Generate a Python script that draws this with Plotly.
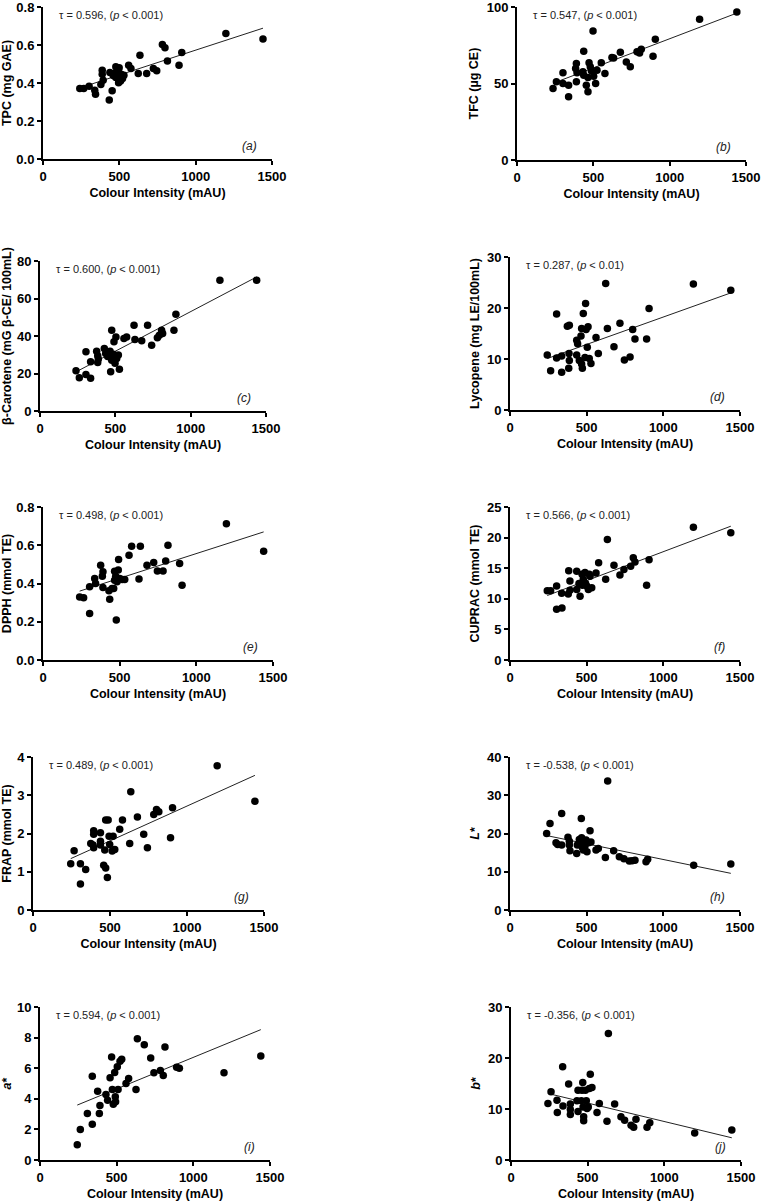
import plotly.graph_objects as go

W, H = 761, 1203
FONT = "Liberation Sans, Arial, sans-serif"

# ---------------- data ----------------
ci_a = [241, 267, 302, 339, 344, 379, 388, 388, 394, 434, 438, 453, 460, 466, 477, 477, 486, 493, 495, 499,
        508, 512, 521, 530, 561, 576, 624, 635, 679, 723, 745, 782, 799, 815, 891, 909, 1198, 1441]
tpc = [0.371, 0.371, 0.383, 0.362, 0.341, 0.392, 0.467, 0.446, 0.415, 0.310, 0.455, 0.359, 0.440, 0.450, 0.485,
       0.429, 0.470, 0.459, 0.401, 0.480, 0.410, 0.446, 0.424, 0.441, 0.494, 0.476, 0.450, 0.546, 0.450, 0.476,
       0.464, 0.602, 0.585, 0.516, 0.494, 0.560, 0.660, 0.632]

ci_b = [236, 258, 301, 301, 338, 338, 384, 389, 389, 393, 432, 437, 437, 454, 465, 465, 472, 480, 487, 498,
        502, 515, 524, 552, 576, 622, 633, 677, 716, 742, 786, 803, 814, 891, 906, 1196, 1440]
tfc = [46.7, 51.1, 57.0, 50.0, 48.9, 41.3, 59.8, 63.0, 51.1, 57.0, 57.6, 71.1, 55.4, 48.9, 44.6, 53.9, 63.5,
       60.9, 58.3, 84.3, 54.8, 50.0, 58.7, 63.5, 56.5, 67.0, 66.7, 70.4, 64.1, 60.9, 70.7, 70.0, 72.4, 67.8,
       78.9, 92.0, 96.7]

ci_c = [239, 261, 305, 305, 336, 336, 376, 383, 387, 383, 427, 436, 449, 465, 469, 476, 476, 487, 491, 498,
        504, 509, 520, 527, 557, 575, 624, 630, 675, 714, 741, 779, 792, 807, 814, 889, 902, 1194, 1438]
bcar = [21.5, 17.7, 31.6, 19.5, 17.4, 26.2, 31.9, 29.4, 27.7, 25.9, 33.3, 30.7, 29.1, 31.9, 20.9, 43.1, 27.1,
        30.3, 36.9, 25.4, 39.5, 28.0, 29.8, 22.2, 38.7, 39.5, 45.7, 38.1, 37.4, 45.7, 35.1, 39.0, 40.4, 43.1,
        41.3, 43.1, 51.6, 69.7, 69.7]

ci_d = [243, 265, 304, 304, 337, 337, 374, 387, 385, 387, 383, 435, 435, 441, 452, 463, 467, 467, 472, 478,
        493, 489, 496, 504, 509, 517, 528, 561, 576, 624, 635, 678, 717, 746, 783, 800, 815, 891, 907, 1196, 1440]
lyc = [10.8, 7.7, 18.8, 10.2, 10.6, 7.4, 16.4, 16.6, 11.1, 9.7, 8.2, 13.7, 10.8, 13.0, 9.7, 14.5, 16.0, 9.0,
       8.2, 18.9, 20.9, 10.3, 15.8, 12.3, 16.3, 10.1, 9.1, 14.2, 11.1, 24.8, 16.0, 12.4, 17.0, 9.8, 10.4, 15.8,
       13.9, 13.9, 19.9, 24.7, 23.5]

ci_e = [239, 265, 304, 304, 337, 343, 376, 387, 391, 391, 430, 435, 450, 461, 467, 467, 474, 478, 483, 491,
        493, 500, 517, 533, 561, 578, 626, 635, 678, 722, 746, 783, 800, 815, 891, 907, 1196, 1439]
dpph = [0.330, 0.325, 0.383, 0.243, 0.426, 0.400, 0.496, 0.438, 0.461, 0.379, 0.362, 0.317, 0.374, 0.374,
        0.417, 0.464, 0.438, 0.209, 0.409, 0.470, 0.525, 0.426, 0.421, 0.421, 0.548, 0.595, 0.423, 0.595,
        0.496, 0.510, 0.466, 0.466, 0.517, 0.600, 0.504, 0.391, 0.713, 0.569]

ci_f = [243, 265, 304, 304, 339, 337, 383, 391, 380, 391, 435, 435, 450, 457, 470, 472, 478, 489, 493, 500,
        511, 517, 522, 533, 561, 578, 624, 635, 678, 717, 743, 787, 804, 815, 891, 907, 1196, 1440]
cuprac = [11.3, 11.3, 12.1, 8.3, 8.5, 10.9, 14.6, 12.9, 10.8, 11.4, 14.5, 11.5, 12.5, 10.4, 14.0, 12.2, 13.2,
          14.3, 12.5, 12.1, 11.5, 14.0, 13.7, 11.8, 14.2, 15.9, 13.2, 19.7, 15.5, 13.9, 14.8, 15.3, 16.7, 16.0,
          12.2, 16.4, 21.7, 20.8]

ci_g = [245, 267, 308, 308, 342, 375, 394, 394, 390, 394, 438, 438, 438, 459, 466, 472, 472, 483, 488, 494,
        498, 514, 520, 531, 563, 581, 628, 635, 678, 719, 743, 784, 802, 817, 893, 906, 1196, 1441]
frap = [1.21, 1.55, 1.21, 0.68, 1.06, 1.74, 2.07, 1.98, 1.70, 1.63, 2.02, 1.80, 1.70, 1.17, 1.57, 2.35, 1.10,
        0.85, 2.35, 1.93, 1.71, 1.54, 1.93, 1.58, 2.11, 2.35, 1.74, 3.09, 2.43, 1.98, 1.63, 2.50, 2.63, 2.57,
        1.89, 2.67, 3.77, 2.84]

ci_h = [239, 261, 300, 311, 337, 337, 378, 387, 387, 391, 435, 439, 452, 457, 467, 465, 470, 478, 481, 489,
        496, 502, 513, 522, 528, 561, 576, 622, 637, 676, 713, 743, 778, 796, 815, 887, 898, 1198, 1440]
lstar = [20.0, 22.6, 17.6, 17.1, 25.2, 17.0, 19.0, 18.0, 17.0, 15.5, 14.8, 17.0, 18.4, 17.8, 18.9, 23.9, 16.5,
         15.7, 17.4, 16.7, 18.3, 15.2, 17.6, 20.7, 17.8, 15.7, 16.1, 13.7, 33.7, 15.5, 13.9, 13.4, 12.8, 12.9,
         13.0, 12.6, 13.3, 11.7, 12.0]

ci_i = [243, 263, 309, 341, 341, 376, 387, 391, 430, 441, 457, 467, 472, 478, 487, 491, 493, 504, 509, 522,
        533, 561, 578, 626, 635, 680, 722, 743, 785, 804, 815, 891, 909, 1200, 1440]
astar = [1.00, 2.00, 3.04, 5.48, 2.33, 4.50, 3.04, 3.57, 4.28, 3.91, 5.37, 6.74, 4.61, 3.65, 5.72, 4.13, 3.80,
         6.09, 4.61, 6.46, 6.59, 5.00, 5.33, 4.61, 7.93, 7.54, 6.67, 5.70, 5.85, 5.52, 7.39, 6.07, 6.00, 5.70, 6.80]

ci_j = [241, 261, 300, 302, 337, 339, 376, 387, 387, 387, 430, 437, 437, 459, 463, 468, 470, 474, 474, 485,
        491, 496, 504, 511, 517, 528, 561, 576, 626, 635, 676, 717, 741, 783, 800, 815, 887, 905, 1198, 1440]
bstar = [11.1, 13.4, 11.7, 9.3, 18.3, 10.6, 14.9, 11.0, 9.9, 8.9, 11.6, 13.7, 9.5, 11.6, 13.7, 15.2, 10.4, 8.5,
         7.7, 13.7, 11.6, 10.1, 10.4, 14.0, 16.8, 14.2, 9.3, 11.1, 7.6, 24.8, 11.0, 8.5, 7.8, 6.8, 6.4, 8.0, 6.4,
         7.3, 5.3, 5.9]

# fitted regression lines (intercept, slope)
fit_intercept = [0.311, 41.15, 10.77, 7.48, 0.2985, 8.234, 0.897, 21.42, 2.589, 14.79]
fit_slope = [0.000262, 0.0381, 0.04223, 0.01075, 0.000258, 0.009464, 0.00182, -0.00822, 0.004119, -0.007246]

tau_values = ["0.596", "0.547", "0.600", "0.287", "0.498", "0.566", "0.489", "-0.538", "0.594", "-0.356"]
p_values = ["0.001", "0.001", "0.001", "0.01", "0.001", "0.001", "0.001", "0.001", "0.001", "0.001"]
panel_labels = ["a", "b", "c", "d", "e", "f", "g", "h", "i", "j"]
y_titles = ["TPC (mg GAE)", "TFC (µg CE)", "β-Carotene (mG β-CE/ 100mL)", "Lycopene (mg LE/100mL)",
            "DPPH (mmol TE)", "CUPRAC (mmol TE)", "FRAP (mmol TE)", "<i>L</i>*", "<i>a</i>*", "<i>b</i>*"]
y_max = [0.8, 100, 80, 30, 0.8, 25, 4, 40, 10, 30]
y_dtick = [0.2, 50, 20, 10, 0.2, 5, 1, 10, 2, 10]
x_ticks = [0, 500, 1000, 1500]
x_title = "Colour Intensity (mAU)"

xs = [ci_a, ci_b, ci_c, ci_d, ci_e, ci_f, ci_g, ci_h, ci_i, ci_j]
ys = [tpc, tfc, bcar, lyc, dpph, cuprac, frap, lstar, astar, bstar]

# ---------------- layout (pixel boxes of plot areas) ----------------
boxes = [(43, 7, 272, 159), (517, 7, 746, 160),
         (40, 261, 266, 411), (510, 257, 740, 410),
         (43, 507, 273, 660), (510, 507, 740, 660),
         (33, 757, 264, 910), (510, 757, 740, 910),
         (40, 1007, 270, 1160), (511, 1007, 741, 1160)]


def px(v):
    return v / W


def py(v):
    return 1 - v / H


fig = go.Figure()
annotations = []
axis_common = dict(showline=True, linecolor="black", linewidth=2, ticks="outside", ticklen=4, tickwidth=2,
                   tickcolor="black", showgrid=False, zeroline=False, automargin=False,
                   ticklabeloverflow="allow",
                   tickfont=dict(family=FONT, size=13, color="black", weight="bold"))

for i in range(10):
    n = i + 1
    xa = "x" if n == 1 else f"x{n}"
    ya = "y" if n == 1 else f"y{n}"
    l, t, r, b = boxes[i]
    x0, x1 = min(xs[i]), max(xs[i])
    fig.add_trace(go.Scatter(x=[x0, x1], y=[fit_intercept[i] + fit_slope[i] * x0,
                                           fit_intercept[i] + fit_slope[i] * x1],
                             mode="lines", line=dict(color="#222", width=1), xaxis=xa, yaxis=ya,
                             hoverinfo="skip", showlegend=False))
    fig.add_trace(go.Scatter(x=xs[i], y=ys[i], mode="markers", marker=dict(size=7.5, color="black"),
                             xaxis=xa, yaxis=ya, showlegend=False, cliponaxis=False))
    fmt = ".1f" if y_dtick[i] < 1 else "d"
    fig.layout[("xaxis" if n == 1 else f"xaxis{n}")] = dict(
        domain=[px(l), px(r)], anchor=ya, range=[0, 1500], tickvals=x_ticks,
        title=dict(text=x_title, font=dict(family=FONT, size=12.5, color="black", weight="bold"), standoff=6),
        **axis_common)
    fig.layout[("yaxis" if n == 1 else f"yaxis{n}")] = dict(
        domain=[py(b), py(t)], anchor=xa, range=[0, y_max[i]], dtick=y_dtick[i], tick0=0,
        tickformat=fmt,
        title=dict(text=y_titles[i], font=dict(family=FONT, size=12.5, color="black", weight="bold"), standoff=5),
        **axis_common)
    annotations.append(dict(xref="paper", yref="paper", x=px(l + 14), y=py(t + 8),
                            xanchor="left", yanchor="middle", showarrow=False,
                            text=f"τ = {tau_values[i]}, (<i>p</i> &lt; {p_values[i]})",
                            font=dict(family=FONT, size=11, color="#222")))
    annotations.append(dict(xref="paper", yref="paper", x=px(r - 13), y=py(b - 13),
                            xanchor="right", yanchor="middle", showarrow=False,
                            text=f"<i>({panel_labels[i]})</i>",
                            font=dict(family=FONT, size=12, color="#222")))

fig.update_layout(width=W, height=H, margin=dict(l=0, r=0, t=0, b=0, autoexpand=False),
                  paper_bgcolor="white", plot_bgcolor="white", annotations=annotations,
                  font=dict(family=FONT, color="black"), showlegend=False, hovermode=False)
# remove the browser's default page margin so the figure sits at the window origin
fig.write_html("out.html", config={"displayModeBar": False, "staticPlot": True},
               post_script="document.body.style.margin='0';document.body.style.overflow='hidden';")
